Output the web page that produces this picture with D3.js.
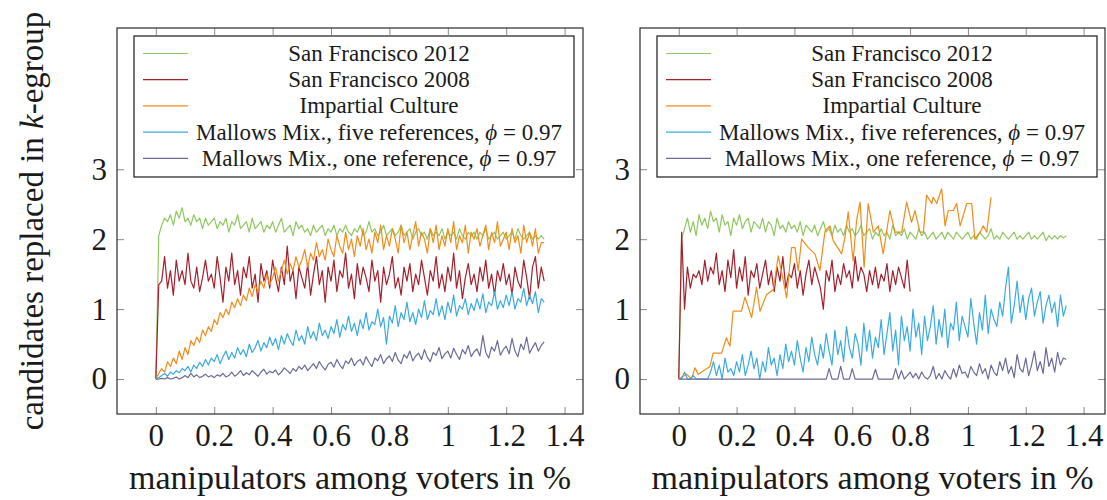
<!DOCTYPE html>
<html>
<head>
<meta charset="utf-8">
<script src="https://cdn.jsdelivr.net/npm/d3@7"></script>
<style>
  body { margin: 0; background: #fff; }
</style>
</head>
<body>
<div id="chart"></div>
<script>
//series names and colours
var seriesNames = ["San Francisco 2012", "San Francisco 2008", "Impartial Culture",
    "Mallows Mix., five references, ", "Mallows Mix., one reference, "];
var seriesColors = ["#8fc85e", "#a4202d", "#f28c1a", "#3aabe2", "#6c6a98"];

//tick values
var xTicks = [0, 0.2, 0.4, 0.6, 0.8, 1, 1.2, 1.4];
var xTickLabels = ["0", "0.2", "0.4", "0.6", "0.8", "1", "1.2", "1.4"];
var yTicks = [0, 1, 2, 3];
var yTickLabels = ["0", "1", "2", "3"];

//sampling step of the evenly spaced series (in %)
var step = 0.01;

//left panel values
var leftGreen = [
    0, 2.05, 2.2, 2.3, 2.25, 2.35, 2.2, 2.4, 2.3, 2.45,
    2.25, 2.3, 2.2, 2.35, 2.25, 2.3, 2.15, 2.3, 2.2, 2.25,
    2.3, 2.15, 2.25, 2.2, 2.3, 2.1, 2.25, 2.2, 2.35, 2.15,
    2.2, 2.25, 2.1, 2.3, 2.15, 2.2, 2.25, 2.1, 2.2, 2.15,
    2.25, 2.1, 2.2, 2.3, 2.1, 2.15, 2.2, 2.05, 2.25, 2.15,
    2.2, 2.1, 2.15, 2.05, 2.2, 2.1, 2.15, 2.2, 2.05, 2.15,
    2.1, 2.2, 2.05, 2.15, 2.1, 2.2, 2.1, 2.05, 2.15, 2.1,
    2.2, 2.05, 2.1, 2.25, 2.1, 2.15, 2.05, 2.1, 2.2, 2.05,
    2.1, 2.15, 2.05, 2.1, 2.2, 2.05, 2.1, 2.15, 2.0, 2.1,
    2.15, 2.05, 2.1, 2.0, 2.15, 2.05, 2.1, 2.05, 2.15, 2.0,
    2.1, 2.05, 2.1, 2.0, 2.15, 2.05, 2.0, 2.1, 2.05, 2.1,
    2.0, 2.1, 2.05, 2.15, 2.0, 2.05, 2.1, 2.0, 2.05, 2.1,
    2.0, 2.05, 2.1, 2.0, 2.15, 2.05, 2.0, 2.05, 2.1, 2.0,
    2.05, 2.0, 2.05, 2.0];
var leftRed = [
    0, 1.35, 1.4, 1.75, 1.3, 1.55, 1.2, 1.7, 1.4, 1.55,
    1.35, 1.8, 1.4, 1.3, 1.6, 1.25, 1.45, 1.7, 1.4, 1.5,
    1.3, 1.75, 1.45, 1.1, 1.6, 1.4, 1.8, 1.35, 1.55, 1.2,
    1.6, 1.45, 1.75, 1.3, 1.5, 1.1, 1.65, 1.4, 1.55, 1.3,
    1.7, 1.45, 1.25, 1.6, 1.35, 1.9, 1.4, 1.55, 1.15, 1.6,
    1.45, 1.3, 1.65, 1.2, 1.5, 1.75, 1.35, 1.55, 1.1, 1.6,
    1.4, 1.7, 1.25, 1.55, 1.45, 1.8, 1.3, 1.5, 1.15, 1.65,
    1.35, 1.6, 1.45, 1.25, 1.7, 1.4, 1.55, 1.1, 1.6, 1.35,
    1.5, 1.75, 1.3, 1.45, 1.2, 1.6, 1.4, 1.65, 1.25, 1.5,
    1.35, 1.7, 1.45, 1.2, 1.55, 1.4, 1.75, 1.3, 1.5, 1.25,
    1.6, 1.4, 1.8, 1.3, 1.55, 1.15, 1.45, 1.65, 1.35, 1.5,
    1.25, 1.6, 1.4, 1.7, 1.3, 1.5, 1.2, 1.55, 1.4, 1.65,
    1.35, 1.5, 1.2, 1.6, 1.4, 1.3, 1.7, 1.45, 1.15, 1.6,
    1.75, 1.3, 1.6, 1.4];
var leftOrange = [
    0, 0.08, 0.15, 0.1, 0.25, 0.18, 0.3, 0.22, 0.4, 0.28,
    0.45, 0.35, 0.55, 0.48, 0.6, 0.52, 0.7, 0.62, 0.75, 0.68,
    0.85, 0.78, 0.95, 0.88, 1.0, 0.92, 1.1, 1.02, 1.15, 1.05,
    1.2, 1.12, 1.3, 1.18, 1.35, 1.25, 1.4, 1.3, 1.5, 1.35,
    1.45, 1.6, 1.4, 1.55, 1.7, 1.5, 1.65, 1.55, 1.75, 1.6,
    1.7, 1.85, 1.6, 1.8, 1.7, 1.95, 1.75, 1.85, 1.7, 2.0,
    1.85, 1.75, 2.05, 1.9, 1.8, 2.1, 1.85, 2.0, 1.75, 2.05,
    1.9, 2.15, 1.85, 2.0, 1.8, 2.1, 1.95, 2.2, 1.85, 2.05,
    1.9, 2.15, 2.0, 1.8, 2.2, 1.95, 2.1, 1.85, 2.05, 2.25,
    1.9, 2.1, 2.0, 1.8, 2.15, 1.95, 2.2, 1.85, 2.05, 1.9,
    2.15, 1.95, 2.25, 1.85, 2.05, 1.95, 2.2, 1.8, 2.1, 2.0,
    2.15, 1.9, 2.05, 2.2, 1.85, 2.1, 1.95, 2.25, 1.9, 2.0,
    2.1, 1.85, 2.15, 1.95, 2.05, 1.8, 2.2, 1.95, 2.1, 1.9,
    2.15, 1.8, 1.95, 1.95];
var leftBlue = [
    0, 0.02, 0.05, 0.08, 0.04, 0.1, 0.07, 0.12, 0.09, 0.15,
    0.12, 0.18, 0.1, 0.2, 0.15, 0.24, 0.18, 0.28, 0.2, 0.3,
    0.25, 0.35, 0.22, 0.32, 0.4, 0.28, 0.38, 0.3, 0.45, 0.35,
    0.42, 0.32, 0.5, 0.38, 0.45, 0.55, 0.4, 0.52, 0.45, 0.6,
    0.48, 0.58, 0.42, 0.62, 0.5, 0.65, 0.55, 0.48, 0.7, 0.55,
    0.62, 0.5, 0.75, 0.58, 0.68, 0.55, 0.8, 0.62, 0.7, 0.58,
    0.75, 0.65, 0.85, 0.6, 0.78, 0.7, 0.9, 0.68, 0.8, 0.62,
    0.85, 0.72, 0.95, 0.7, 0.82, 0.78, 1.0, 0.75, 0.88, 0.5,
    0.9, 0.8, 1.05, 0.75, 0.95, 0.85, 1.1, 0.82, 0.95, 0.78,
    1.0, 0.88, 1.12, 0.85, 0.98, 0.92, 1.15, 0.9, 1.05, 0.85,
    1.1, 0.95, 1.2, 0.9, 1.05, 1.0, 1.15, 0.92, 1.08, 0.98,
    1.15, 1.0, 1.22, 0.95, 1.1, 1.05, 1.25, 1.0, 1.12, 1.02,
    1.2, 1.05, 1.25, 1.0, 1.15, 1.1, 1.3, 1.05, 1.2, 1.08,
    1.25, 0.95, 1.15, 1.1];
var leftPurple = [
    0, 0, 0.01, 0, 0.02, 0, 0.01, 0.03, 0, 0.02,
    0.05, 0.02, 0.08, 0.03, 0.06, 0.02, 0.04, 0.07, 0.03, 0.05,
    0.02, 0.06, 0.04, 0.08, 0.03, 0.05, 0.1, 0.04, 0.07, 0.12,
    0.05, 0.09, 0.06, 0.12, 0.08, 0.04, 0.1, 0.14, 0.07, 0.11,
    0.09, 0.13, 0.06, 0.1, 0.16, 0.12, 0.08, 0.15, 0.11, 0.18,
    0.14, 0.2, 0.12, 0.17, 0.22, 0.15, 0.25, 0.18, 0.13, 0.21,
    0.24, 0.17, 0.28, 0.2, 0.15, 0.26, 0.22, 0.3, 0.19, 0.25,
    0.28, 0.2, 0.32, 0.24, 0.18, 0.3, 0.26, 0.35, 0.22, 0.29,
    0.33, 0.25, 0.38, 0.27, 0.22, 0.35, 0.3, 0.4, 0.26, 0.33,
    0.37, 0.28, 0.42, 0.31, 0.25, 0.38, 0.34, 0.45, 0.29, 0.36,
    0.4, 0.3, 0.44, 0.35, 0.28, 0.42, 0.36, 0.48, 0.32, 0.39,
    0.43, 0.33, 0.62, 0.38, 0.3, 0.46, 0.4, 0.55, 0.34, 0.42,
    0.47, 0.36, 0.58, 0.4, 0.32, 0.5, 0.42, 0.6, 0.37, 0.45,
    0.52, 0.4, 0.48, 0.53];

//right panel values
var rightGreen = [
    0, 2.0, 2.15, 2.3, 2.1, 2.25, 2.05, 2.35, 2.2, 2.3,
    2.15, 2.4, 2.25, 2.3, 2.1, 2.35, 2.2, 2.25, 2.05, 2.3,
    2.2, 2.35, 2.15, 2.25, 2.3, 2.1, 2.25, 2.2, 2.15, 2.3,
    2.1, 2.25, 2.2, 2.05, 2.3, 2.15, 2.2, 2.1, 2.25, 2.15,
    2.2, 2.1, 2.25, 2.05, 2.2, 2.15, 2.1, 2.2, 2.05, 2.15,
    2.25, 2.1, 2.15, 2.05, 2.2, 2.1, 2.15, 2.05, 2.2, 2.1,
    2.15, 2.05, 2.1, 2.2, 2.05, 2.1, 2.15, 2.0, 2.1, 2.05,
    2.15, 2.05, 2.1, 2.0, 2.2, 2.05, 2.1, 2.05, 2.15, 2.0,
    2.1, 2.05, 2.0, 2.15, 2.05, 2.1, 2.0, 2.05, 2.1, 2.0,
    2.05, 2.1, 2.0, 2.1, 2.05, 2.0, 2.1, 2.05, 2.0, 2.05,
    2.1, 2.0, 2.05, 2.0, 2.1, 2.05, 2.0, 2.05, 2.15, 2.0,
    2.05, 2.0, 2.1, 2.05, 2.0, 2.05, 2.1, 2.0, 2.05, 2.0,
    2.05, 2.1, 2.0, 2.05, 2.0, 2.05, 2.1, 1.98, 2.05, 2.0,
    2.05, 2.0, 2.05, 2.02, 2.05];
var rightRed = [
    0, 2.1, 1.0, 1.6, 1.3, 1.5, 1.45, 1.55, 1.35, 1.7,
    1.4, 1.6, 1.5, 1.8, 1.35, 1.55, 1.25, 1.7, 1.45, 1.85,
    1.3, 1.6, 1.4, 1.75, 1.2, 1.55, 1.45, 1.65, 1.3, 1.5,
    1.7, 1.35, 1.55, 1.25, 1.6, 1.4, 1.75, 1.3, 1.5, 1.45,
    1.65, 1.3, 1.55, 1.2, 1.5, 1.7, 1.35, 1.6, 1.45, 1.3,
    1.0, 1.55, 1.4, 1.7, 1.25, 1.5, 1.35, 1.65, 1.45, 1.55,
    1.3, 1.75, 1.4, 1.6, 1.5, 1.25, 1.55, 1.35, 1.6, 1.3,
    1.5, 1.4, 1.65, 1.25, 1.55, 1.35, 1.6, 1.45, 1.3, 1.7,
    1.25];
var rightOrangeX = [
    0, 0.027, 0.044, 0.056, 0.067, 0.108, 0.119, 0.148, 0.165, 0.177,
    0.188, 0.217, 0.229, 0.252, 0.269, 0.281, 0.304, 0.327, 0.344, 0.356,
    0.373, 0.39, 0.402, 0.413, 0.425, 0.448, 0.471, 0.488, 0.506, 0.523,
    0.534, 0.563, 0.575, 0.586, 0.603, 0.615, 0.627, 0.641, 0.655, 0.673,
    0.69, 0.707, 0.73, 0.748, 0.771, 0.788, 0.805, 0.817, 0.834, 0.846,
    0.857, 0.875, 0.88, 0.892, 0.909, 0.921, 0.932, 0.95, 0.961, 0.973,
    0.996, 1.013, 1.024, 1.042, 1.053, 1.065, 1.08];
var rightOrangeY = [
    0, 0.07, 0, 0.16, 0.07, 0.18, 0.37, 0.37, 0.59, 0.47,
    0.97, 0.97, 1.17, 0.88, 1.31, 0.97, 1.21, 1.28, 1.76, 1.52,
    1.16, 1.88, 1.88, 1.55, 2.0, 1.88, 1.79, 1.55, 2.12, 2.19,
    1.98, 1.79, 2.03, 2.39, 1.69, 2.27, 2.53, 1.6, 2.51, 2.1,
    2.19, 1.79, 2.41, 2.1, 2.1, 2.53, 2.24, 2.41, 2.1, 2.1,
    2.63, 2.51, 2.6, 2.51, 2.72, 2.19, 2.41, 2.41, 2.51, 2.19,
    2.51, 2.51, 2.0, 2.1, 2.19, 2.1, 2.6];
var rightBlue = [
    0, 0, 0.1, 0, 0, 0.05, 0, 0, 0, 0,
    0, 0.1, 0.25, 0.05, 0.2, 0, 0.3, 0.1, 0.15, 0.05,
    0.25, 0.1, 0.35, 0.05, 0.2, 0.4, 0.15, 0.3, 0.0, 0.25,
    0.1, 0.45, 0.2, 0.3, 0.05, 0.35, 0.15, 0.5, 0.25, 0.4,
    0.2, 0.55, 0.3, 0.1, 0.45, 0.25, 0.6, 0.35, 0.2, 0.5,
    0.3, 0.65, 0.4, 0.2, 0.7, 0.35, 0.55, 0.25, 0.75, 0.45,
    0.3, 0.65, 0.5, 0.2, 0.8, 0.4, 0.7, 0.3, 0.6, 0.45,
    0.85, 0.35, 0.65, 0.95, 0.4, 0.7, 0.2, 0.9, 0.55, 0.75,
    0.4, 1.0, 0.6, 0.8, 0.35, 0.9, 0.55, 0.75, 1.05, 0.5,
    0.85, 0.6, 1.0, 0.45, 0.8, 0.7, 1.1, 0.55, 0.9, 0.75,
    0.6, 1.15, 0.8, 0.5, 0.95, 0.7, 1.2, 0.65, 1.0, 0.85,
    0.75, 1.1, 0.9, 1.3, 1.6, 0.8, 1.05, 1.4, 0.95, 1.2,
    0.85, 1.15, 1.3, 0.9, 1.1, 1.25, 0.8, 1.05, 1.2, 0.95,
    1.1, 0.75, 1.2, 0.9, 1.05];
var rightPurple = [
    0, 0, 0, 0, 0, 0, 0, 0, 0, 0,
    0, 0, 0, 0, 0, 0, 0, 0, 0, 0,
    0, 0, 0, 0, 0, 0, 0, 0, 0, 0,
    0, 0, 0, 0, 0, 0, 0, 0, 0, 0,
    0, 0, 0, 0, 0, 0, 0, 0, 0, 0,
    0, 0, 0.15, 0, 0, 0, 0.18, 0, 0, 0,
    0.15, 0, 0, 0, 0, 0, 0, 0, 0.14, 0,
    0, 0, 0, 0, 0, 0.15, 0, 0.12, 0, 0.05,
    0.1, 0.02, 0.08, 0, 0.1, 0.03, 0, 0.05, 0.18, 0,
    0.08, 0, 0.12, 0.05, 0, 0.15, 0.03, 0.2, 0.08, 0.1,
    0.02, 0.18, 0.1, 0.05, 0.22, 0.08, 0.15, 0, 0.2, 0.1,
    0.05, 0.25, 0.12, 0.3, 0.08, 0.18, 0.02, 0.35, 0.15, 0.1,
    0.3, 0.05, 0.2, 0.4, 0.12, 0.25, 0.08, 0.45, 0.18, 0.3,
    0.1, 0.38, 0.2, 0.3, 0.28];

//turn an evenly spaced value list into [x, y] points
function evenPoints(values) {
    return values.map((v, i) => [i * step, v]);
}

//svg size and shared frame position
var svgWidth = 1107;
var svgHeight = 500;
var frameTop = 28;
var frameBottom = 414;
var yDomain = [-0.5, 5.02];
var serifFont = "Liberation Serif";

var svg = d3.select("#chart").append("svg")
    .attr("width", svgWidth)
    .attr("height", svgHeight);

var panels = [
    {
        left: 117, right: 583, xDomain: [-0.133, 1.463],
        series: [evenPoints(leftGreen), evenPoints(leftRed), evenPoints(leftOrange),
            evenPoints(leftBlue), evenPoints(leftPurple)]
    },
    {
        left: 640, right: 1105, xDomain: [-0.134, 1.474],
        series: [evenPoints(rightGreen), evenPoints(rightRed),
            rightOrangeX.map((v, i) => [v, rightOrangeY[i]]),
            evenPoints(rightBlue), evenPoints(rightPurple)]
    }
];

//draw one panel
function drawPanel(p) {
    var xScale = d3.scaleLinear().domain(p.xDomain).range([p.left, p.right]);
    var yScale = d3.scaleLinear().domain(yDomain).range([frameBottom, frameTop]);
    var g = svg.append("g");

    //data lines
    var line = d3.line().x(d => xScale(d[0])).y(d => yScale(d[1]));
    p.series.forEach(function(pts, i) {
        g.append("path")
            .datum(pts)
            .attr("d", line)
            .attr("fill", "none")
            .attr("stroke", seriesColors[i])
            .attr("stroke-width", 1.2)
            .attr("stroke-linejoin", "round");
    });

    //ticks on all four sides, pointing inward
    var bottomAxis = g.append("g")
        .attr("transform", `translate(0, ${frameBottom})`)
        .call(d3.axisBottom(xScale).tickValues(xTicks).tickSize(-7).tickPadding(10)
            .tickFormat((d, i) => xTickLabels[i]));
    var topAxis = g.append("g")
        .attr("transform", `translate(0, ${frameTop})`)
        .call(d3.axisTop(xScale).tickValues(xTicks).tickSize(-7).tickFormat(""));
    var leftAxis = g.append("g")
        .attr("transform", `translate(${p.left}, 0)`)
        .call(d3.axisLeft(yScale).tickValues(yTicks).tickSize(-7).tickPadding(10)
            .tickFormat((d, i) => yTickLabels[i]));
    var rightAxis = g.append("g")
        .attr("transform", `translate(${p.right}, 0)`)
        .call(d3.axisRight(yScale).tickValues(yTicks).tickSize(-7).tickFormat(""));

    [bottomAxis, topAxis, leftAxis, rightAxis].forEach(function(a) {
        a.select(".domain").remove();
        a.selectAll(".tick line").attr("stroke", "#8a8a8a");
        a.selectAll("text").attr("font-size", 31);
    });

    //frame
    g.append("rect")
        .attr("x", p.left)
        .attr("y", frameTop)
        .attr("width", p.right - p.left)
        .attr("height", frameBottom - frameTop)
        .attr("fill", "none")
        .attr("stroke", "#2a2a2a")
        .attr("stroke-width", 1.2);

    //x axis title
    g.append("text")
        .attr("x", (p.left + p.right) / 2)
        .attr("y", 489)
        .attr("text-anchor", "middle")
        .attr("font-size", 34)
        .text("manipulators among voters in %");

    //legend
    var lx = p.left + 17;
    var legend = g.append("g");
    legend.append("rect")
        .attr("x", lx)
        .attr("y", 36)
        .attr("width", 440)
        .attr("height", 141)
        .attr("fill", "#fff")
        .attr("stroke", "#1a1a1a")
        .attr("stroke-width", 1.2);

    seriesNames.forEach(function(name, i) {
        var rowY = 53.5 + i * 26.2;
        legend.append("line")
            .attr("x1", lx + 9)
            .attr("x2", lx + 54)
            .attr("y1", rowY)
            .attr("y2", rowY)
            .attr("stroke", seriesColors[i])
            .attr("stroke-width", 1.2);
        var t = legend.append("text")
            .attr("x", lx + 245)
            .attr("y", rowY + 7.5)
            .attr("text-anchor", "middle")
            .attr("font-size", 23)
            .text(name);
        if (i >= 3) {
            t.append("tspan").attr("font-style", "italic").text("ϕ");
            t.append("tspan").text(" = 0.97");
        }
    });
}

panels.forEach(p => drawPanel(p));

//y axis title
var yTitle = svg.append("text")
    .attr("transform", "translate(43, 221) rotate(-90)")
    .attr("text-anchor", "middle")
    .attr("font-size", 33);
yTitle.append("tspan").text("candidates replaced in ");
yTitle.append("tspan").attr("font-style", "italic").text("k");
yTitle.append("tspan").text("-egroup");

//same serif face and ink colour on every text
svg.selectAll("text")
    .attr("font-family", serifFont)
    .attr("fill", "#1a1a1a");
</script>
</body>
</html>
